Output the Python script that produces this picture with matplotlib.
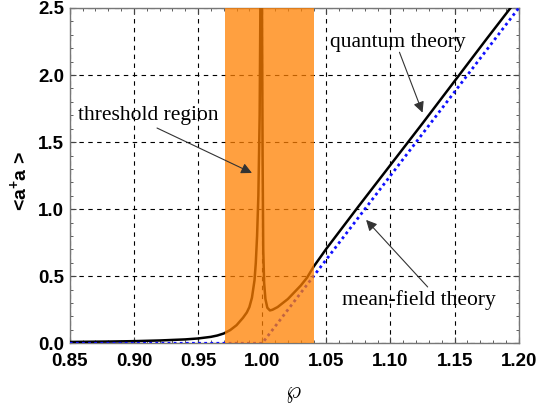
import matplotlib
matplotlib.use("Agg")
import matplotlib.pyplot as plt
from matplotlib.ticker import MultipleLocator

# quantum theory curve
phi_q = [0.85, 0.88, 0.90, 0.92, 0.94, 0.95, 0.96, 0.965, 0.97, 0.975, 0.98,
         0.985, 0.988, 0.990, 0.992, 0.994, 0.995, 0.996, 0.997, 0.998,
         0.9985, 0.9993, 0.9998, 1.0003, 1.0008, 1.0015, 1.0025, 1.004,
         1.006, 1.008, 1.012, 1.016, 1.020, 1.025, 1.030, 1.035, 1.040,
         1.050, 1.075, 1.100, 1.125, 1.150, 1.175, 1.200]
n_q = [0.010, 0.013, 0.016, 0.021, 0.029, 0.036, 0.048, 0.058, 0.073, 0.098, 0.135,
       0.19, 0.23, 0.27, 0.34, 0.47, 0.60, 0.80, 1.10, 1.70,
       2.40, 4.00, 2.60, 1.40, 0.70, 0.45, 0.33, 0.265,
       0.245, 0.25, 0.27, 0.30, 0.33, 0.38, 0.43, 0.49, 0.57,
       0.705, 1.02, 1.33, 1.64, 1.955, 2.27, 2.58]

# mean-field theory
phi_mf = [0.85, 1.00, 1.20]
n_mf = [0.0, 0.0, 2.5]

# threshold region
region = [0.971, 1.040]

xticks = [0.85, 0.90, 0.95, 1.00, 1.05, 1.10, 1.15, 1.20]
yticks = [0.0, 0.5, 1.0, 1.5, 2.0, 2.5]

plt.rcParams['mathtext.fontset'] = 'custom'
plt.rcParams['mathtext.bf'] = 'Liberation Sans:bold'
plt.rcParams['mathtext.rm'] = 'Liberation Sans:bold'

fig = plt.figure(figsize=(5.37, 4.08), dpi=100)
ax = fig.add_axes([0.130, 0.1586, 0.836, 0.8218])

ax.plot(phi_q, n_q, color='black', lw=1.8, zorder=3)
ax.plot(phi_mf, n_mf, color='#1010ff', lw=2.0, ls=(0, (1, 1.2)), zorder=3)
ax.axvspan(region[0], region[1], facecolor=(1.0, 0.5, 0.0), alpha=0.75, lw=0, zorder=4)

ax.set_xlim(0.85, 1.20)
ax.set_ylim(0.0, 2.5)
ax.set_xticks(xticks)
ax.set_yticks(yticks)
ax.set_xticklabels([f"{v:.2f}" for v in xticks])
ax.set_yticklabels([f"{v:.1f}" for v in yticks])
ax.xaxis.set_minor_locator(MultipleLocator(0.01))
ax.yaxis.set_minor_locator(MultipleLocator(0.1))
ax.tick_params(which='both', direction='in', top=True, right=True, color='#444444')
ax.tick_params(which='major', length=4.5, width=0.8, labelsize=13.5)
ax.tick_params(axis='x', which='major', pad=7)
ax.tick_params(axis='y', which='major', pad=4)
ax.tick_params(which='minor', length=2.5, width=0.6)
for lab in ax.get_xticklabels() + ax.get_yticklabels():
    lab.set_fontfamily('Liberation Sans')
    lab.set_fontweight('bold')
for s in ax.spines.values():
    s.set_color('#777777')
    s.set_linewidth(1.0)
ax.grid(True, which='major', color='black', ls=(0, (4, 4)), lw=0.8, zorder=1)
ax.set_axisbelow(True)

fig.text(0.036, 0.555, r'<a$^{+}$a >', rotation=90, ha='center', va='center',
         fontsize=14, fontweight='bold', family='Liberation Sans')
fig.text(0.546, 0.036, r'$\wp$', ha='center', va='center', fontsize=17)

aprops = dict(arrowstyle='-|>', color='#333333', lw=0.8, mutation_scale=16,
              shrinkA=0, shrinkB=0)
tfont = dict(family='Liberation Serif', fontsize=15.5)
ax.annotate('', xy=(0.992, 1.27), xytext=(0.918, 1.605), arrowprops=aprops, zorder=5)
ax.text(0.911, 1.70, 'threshold region', ha='center', va='center', zorder=5, **tfont)
ax.annotate('', xy=(1.125, 1.72), xytext=(1.107, 2.17), arrowprops=aprops, zorder=5)
ax.text(1.106, 2.24, 'quantum theory', ha='center', va='center', zorder=5, **tfont)
ax.annotate('', xy=(1.081, 0.92), xytext=(1.129, 0.42), arrowprops=aprops, zorder=5)
ax.text(1.122, 0.32, 'mean-field theory', ha='center', va='center', zorder=5, **tfont)

fig.savefig('out.png', dpi=100)
